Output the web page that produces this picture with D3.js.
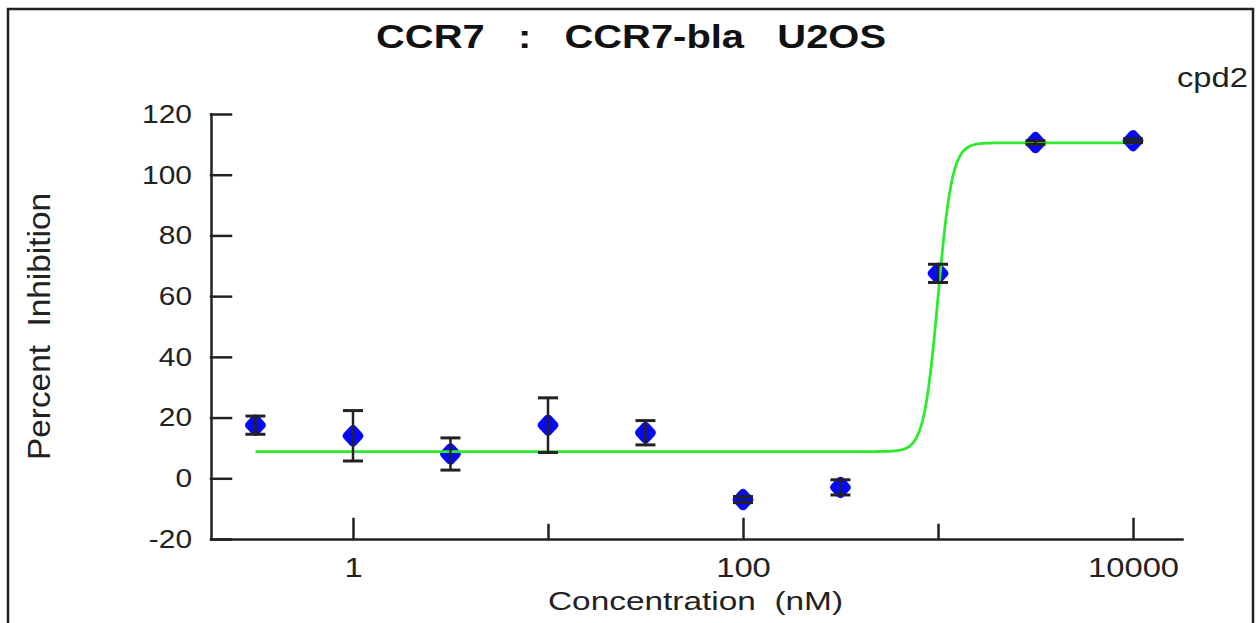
<!DOCTYPE html>
<html><head><meta charset="utf-8">
<script src="https://cdn.jsdelivr.net/npm/d3@7"></script>
<style>html,body{margin:0;padding:0;background:#fff;overflow:hidden}</style>
</head><body>
<svg id="chart" width="1259" height="623"></svg>
<script>
// ---- data ----
const concentrations = [0.316, 1, 3.16, 10, 31.6, 100, 316, 1000, 3160, 10000];
const meanInhibition = [17.5, 14, 8, 17.5, 15, -7, -3, 67.5, 110.6, 111.2];
const errorInhibition = [3, 8.3, 5.3, 9, 4, 1, 2.5, 3, 0.6, 0.6];
const fitBottom = 8.8, fitTop = 110.5, fitLogEC50 = 3.0, fitHill = 12;
const xTickMajor = [1, 100, 10000];
const xTickMinor = [10, 1000];
const yTicks = [-20, 0, 20, 40, 60, 80, 100, 120];
const titleText = "CCR7   :   CCR7-bla   U2OS";
const seriesName = "cpd2";
const xLabel = "Concentration  (nM)";
const yLabel = "Percent  Inhibition";

// ---- layout ----
const svg = d3.select("#chart");
const FONT = "'Liberation Sans', Arial, sans-serif";
const INK = "#222";

svg.append("rect").attr("x", 8).attr("y", 9).attr("width", 1245).attr("height", 660)
  .attr("fill", "none").attr("stroke", INK).attr("stroke-width", 2.5);

const x = d3.scaleLog().domain([0.187, 17830]).range([211, 1182]);
const y = d3.scaleLinear().domain([-20, 120]).range([539, 114]);

function stretch(sel, k) {
  sel.each(function () {
    const w = this.getComputedTextLength();
    d3.select(this).attr("textLength", w * k).attr("lengthAdjust", "spacingAndGlyphs");
  });
}

// y axis
const yAxis = svg.append("g").attr("transform", "translate(211,0)")
  .call(d3.axisLeft(y).tickValues(yTicks).tickFormat(d => String(d))
    .tickSizeInner(-20).tickSizeOuter(0).tickPadding(19));
// x axis major
const xAxis = svg.append("g").attr("transform", "translate(0,539)")
  .call(d3.axisBottom(x).tickValues(xTickMajor).tickFormat(d => String(d))
    .tickSizeInner(-20).tickSizeOuter(0).tickPadding(18));
// x axis minor
const xMinor = svg.append("g").attr("transform", "translate(0,539)")
  .call(d3.axisBottom(x).tickValues(xTickMinor).tickFormat("")
    .tickSizeInner(-14).tickSizeOuter(0));
xMinor.select(".domain").remove();

[yAxis, xAxis, xMinor].forEach(g => {
  g.selectAll("path, line").attr("stroke", INK).attr("stroke-width", 2.5).attr("stroke-linecap", "square");
  g.selectAll("text").attr("fill", INK).style("font-family", FONT);
});
yAxis.selectAll("text").style("font-size", "26px");
xAxis.selectAll("text").style("font-size", "28px");
stretch(yAxis.selectAll("text"), 1.15);
stretch(xAxis.selectAll("text"), 1.17);

// data rows
const rows = concentrations.map((c, i) => ({c, m: meanInhibition[i], e: errorInhibition[i]}));

// markers (rounded diamonds)
svg.append("g").selectAll("path").data(rows).join("path")
  .attr("transform", d => `translate(${x(d.c)},${y(d.m)})`)
  .attr("d", "M0,-6.5L6,0L0,6.5L-6,0Z")
  .attr("fill", "#0808f8").attr("stroke", "#0808f8")
  .attr("stroke-width", 8.5).attr("stroke-linejoin", "round");

// fitted 4PL curve
const logs = d3.range(Math.log10(concentrations[0]), Math.log10(concentrations[concentrations.length - 1]) + 1e-9, 0.004);
const curve = logs.map(l => [10 ** l, fitBottom + (fitTop - fitBottom) / (1 + 10 ** ((fitLogEC50 - l) * fitHill))]);
svg.append("path").datum(curve)
  .attr("d", d3.line().x(d => x(d[0])).y(d => y(d[1])))
  .attr("fill", "none").attr("stroke", "#2eea2e").attr("stroke-width", 2.8);

// error bars
const eb = svg.append("g").attr("stroke", INK).attr("stroke-width", 2.5);
eb.selectAll("line.v").data(rows).join("line").attr("class", "v")
  .attr("x1", d => x(d.c)).attr("x2", d => x(d.c))
  .attr("y1", d => y(d.m + d.e)).attr("y2", d => y(d.m - d.e));
eb.selectAll("line.t").data(rows).join("line").attr("class", "t")
  .attr("x1", d => x(d.c) - 10).attr("x2", d => x(d.c) + 10)
  .attr("y1", d => y(d.m + d.e)).attr("y2", d => y(d.m + d.e)).attr("stroke-width", 3);
eb.selectAll("line.b").data(rows).join("line").attr("class", "b")
  .attr("x1", d => x(d.c) - 10).attr("x2", d => x(d.c) + 10)
  .attr("y1", d => y(d.m - d.e)).attr("y2", d => y(d.m - d.e)).attr("stroke-width", 3);

// texts
svg.append("text").text(titleText)
  .attr("x", 631).attr("y", 48).attr("text-anchor", "middle")
  .style("white-space", "pre").style("font-family", FONT).style("font-weight", "bold")
  .style("font-size", "33px").attr("fill", "#111")
  .attr("textLength", 510).attr("lengthAdjust", "spacingAndGlyphs");

svg.append("text").text(seriesName)
  .attr("x", 1177).attr("y", 87).style("font-family", FONT).style("font-size", "27px")
  .attr("fill", INK).attr("textLength", 71).attr("lengthAdjust", "spacingAndGlyphs");

svg.append("text").text(xLabel)
  .attr("x", 548).attr("y", 610).style("white-space", "pre")
  .style("font-family", FONT).style("font-size", "26px").attr("fill", INK)
  .attr("textLength", 295).attr("lengthAdjust", "spacingAndGlyphs");

svg.append("text").text(yLabel)
  .attr("transform", "translate(50,326.5) rotate(-90)").attr("text-anchor", "middle")
  .style("white-space", "pre").style("font-family", FONT).style("font-size", "32px").attr("fill", INK)
  .attr("textLength", 267).attr("lengthAdjust", "spacingAndGlyphs");
</script>
</body></html>
